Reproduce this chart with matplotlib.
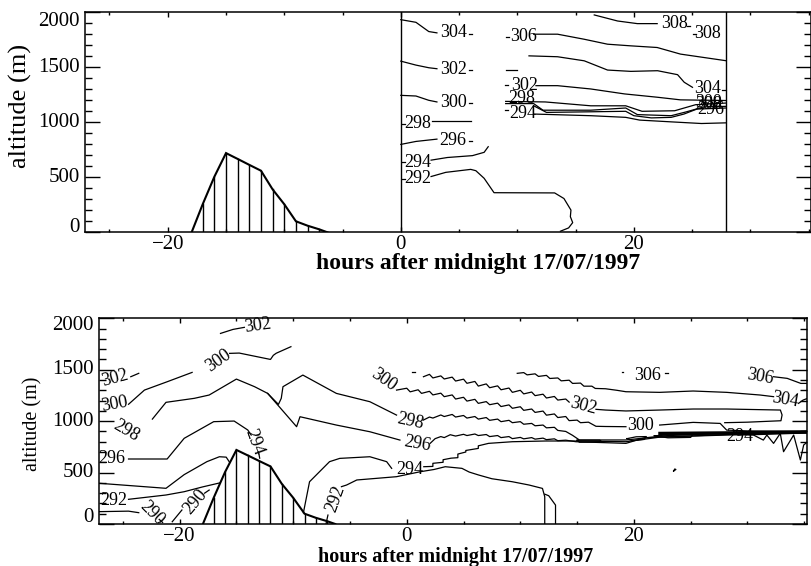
import matplotlib

matplotlib.use("Agg")
import matplotlib.pyplot as plt
from matplotlib.transforms import ScaledTranslation

plt.rcParams["font.family"] = ["Liberation Serif", "DejaVu Serif"]

# axis ranges / ticks (hours after midnight, metres)
X_LIM = (-27.1, 35.2)
Y_LIM = (0, 2000)
x_major = [-20, 0, 20]
x_major_labels = ["\u221220", "0", "20"]
x_minor = list(range(-25, 36, 5))
y_major = [0, 500, 1000, 1500, 2000]
y_major_labels = ["0", "500", "1000", "1500", "2000"]
y_minor = list(range(0, 2001, 100))
x_label = "hours after midnight 17/07/1997"
y_label = "altitude (m)"

# hatched orography profile, same in both panels
terrain_x = [-17.95, -17, -16, -15, -14, -13, -12, -11, -10, -9, -8, -7, -6.3]
terrain_y = [0, 255, 505, 720, 667, 613, 560, 390, 255, 100, 60, 27, 0]

# ---- top panel: contour pieces ----
top_edges = [0.0, 27.9]
top_304 = [([0.0, 1.3, 2.4, 3.1], [1933, 1909, 1825, 1813]),
           ([5.85, 6.1], [1805, 1805]),
           ([11.0, 13.45, 15.74, 17.74, 19.74, 22.03, 23.75, 24.32, 25.03],
            [1604, 1596, 1559, 1475, 1463, 1469, 1433, 1364, 1318]),
           ([27.6, 27.85], [1290, 1290])]
top_302 = [([0.0, 1.3, 2.4, 3.1], [1556, 1520, 1496, 1487]),
           ([5.85, 6.1], [1472, 1472]),
           ([9.0, 10.0], [1472, 1472]),
           ([8.95, 9.2], [1339, 1339]),
           ([11.6, 13.45, 16.3, 19.2, 22.0, 24.0, 27.9],
            [1333, 1333, 1303, 1258, 1228, 1204, 1198])]
top_300 = [([0.0, 1.3, 2.4, 3.1], [1245, 1239, 1200, 1185]),
           ([5.85, 6.1], [1175, 1175]),
           ([9.0, 12.4, 16.3, 19.3, 20.7, 23.5, 25.3, 27.9],
            [1190, 1185, 1150, 1150, 1100, 1105, 1160, 1175])]
top_298 = [([0.1, 0.35], [989, 989]),
           ([2.7, 6.0], [1010, 1010]),
           ([9.0, 11.4, 12.2, 16.3, 19.3, 20.3, 23.2, 24.5, 26.0, 27.9],
            [1170, 1170, 1110, 1110, 1130, 1070, 1060, 1095, 1140, 1145])]
top_296 = [([0.0, 1.3, 3.1], [799, 826, 847]),
           ([5.85, 6.1], [832, 832]),
           ([11.4, 12.5, 19.3, 20.0, 21.5, 23.2, 24.3, 25.4, 27.9],
            [1150, 1090, 1100, 1060, 1040, 1045, 1075, 1120, 1130])]
top_294 = [([0.1, 0.35], [636, 636]),
           ([2.6, 4.0, 6.15, 7.15, 7.5], [656, 680, 697, 727, 778]),
           ([8.95, 9.2], [1113, 1113]),
           ([11.4, 16.3, 19.3, 20.5, 23.2, 25.8, 27.9],
            [1075, 1060, 1045, 1020, 1004, 989, 995])]
top_292 = [([0.1, 0.35], [485, 485]),
           ([2.6, 3.86, 6.0, 6.44, 7.15, 8.0, 13.2, 14.0, 14.6, 14.55, 14.75, 14.4, 13.7],
            [507, 545, 572, 560, 491, 360, 358, 307, 202, 142, 88, 40, 10])]
top_306 = [([9.0, 9.25], [1774, 1774]),
           ([11.4, 13.45, 15.74, 17.74, 19.74, 22.0, 24.0, 27.9],
            [1801, 1801, 1755, 1710, 1695, 1680, 1620, 1560])]
top_308 = [([16.6, 18.6, 20.3, 22.0], [1976, 1921, 1897, 1897]),
           ([24.6, 24.85], [1876, 1876]),
           ([25.1, 25.35], [1800, 1800])]
top_labels = [("304", 4.5, 1813), ("302", 4.5, 1481), ("300", 4.5, 1176),
              ("298", 1.43, 989), ("296", 4.5, 832), ("294", 1.43, 636),
              ("292", 1.43, 485), ("306", 10.5, 1783), ("302", 10.6, 1330),
              ("298", 10.4, 1212), ("294", 10.45, 1080), ("308", 23.46, 1897),
              ("308", 26.3, 1806), ("304", 26.33, 1303), ("300", 26.4, 1178),
              ("298", 26.45, 1165), ("296", 26.6, 1112)]

# ---- bottom panel ----
bot_302 = [([-16.4, -15.3, -14.3], [1853, 1892, 1912]),
           ([-24.3, -23.6], [1432, 1465]),
           ([1.47, 2.0, 2.3, 3.0, 3.3, 4.0, 4.3, 5.0, 5.3, 6.0, 6.3, 7.0, 7.3, 8.0,
             8.3, 9.0, 9.3, 10.0, 10.3, 11.0, 11.3, 12.0, 12.3, 13.0, 13.3, 14.0, 14.3],
            [1432, 1455, 1420, 1440, 1410, 1428, 1390, 1408, 1368, 1386, 1341, 1362,
             1325, 1343, 1305, 1322, 1280, 1300, 1265, 1283, 1248, 1262, 1225, 1240,
             1205, 1215, 1185]),
           ([16.66, 17.5, 19.3, 22.27, 25.22, 28.17, 32.9, 33.05, 32.95, 30.0, 28.0],
            [1115, 1108, 1099, 1108, 1118, 1118, 1108, 1060, 1004, 990, 985]),
           ([0.45, 0.75], [1480, 1480])]
bot_300 = [([-24.5, -23.1, -21.1, -18.9], [1164, 1302, 1383, 1474]),
           ([-15.6, -14.75, -12.0, -11.75, -11.5, -10.2], [1659, 1662, 1600, 1640, 1660, 1724]),
           ([-0.9, 0.0, 0.3, 1.0, 1.3, 2.0, 2.3, 3.0, 3.3, 4.0, 4.3, 5.0, 5.3, 6.0, 6.3,
             7.0, 7.3, 8.0, 8.3, 9.0, 9.3, 10.0, 10.3, 11.0, 11.3, 12.0, 12.3, 13.0,
             13.3, 14.0, 14.3, 15.0, 15.3, 16.0, 16.66, 17.5, 19.3],
            [1302, 1320, 1285, 1305, 1270, 1290, 1255, 1272, 1238, 1255, 1215, 1232,
             1195, 1212, 1173, 1190, 1160, 1175, 1142, 1158, 1125, 1140, 1105, 1118,
             1085, 1098, 1058, 1070, 1035, 1045, 1005, 1010, 985, 990, 950, 948, 946]),
           ([22.27, 25.22, 27.6, 28.17, 30.0, 35.3], [962, 988, 978, 913, 905, 900])]
bot_298 = [([-22.4, -21.2, -18.7, -17.4, -15.0, -13.4, -12.25, -11.3, -11.05, -10.9,
             -9.15, -6.2, -3.25, -0.9],
            [1020, 1183, 1222, 1254, 1409, 1335, 1270, 1163, 1222, 1335,
             1448, 1270, 1189, 1059]),
           ([1.47, 2.0, 2.3, 3.0, 3.3, 4.0, 4.3, 5.0, 5.3, 6.0, 6.3, 7.0, 7.3, 8.0, 8.3,
             9.0, 9.3, 10.0, 10.3, 11.0, 11.3, 12.0, 12.3, 13.0, 13.3, 14.0, 14.6, 15.2,
             19.3, 23.0, 28.2, 35.3],
            [1011, 1040, 1030, 1060, 1045, 1065, 1040, 1055, 1030, 1045, 1020, 1035,
             1008, 1020, 995, 1008, 985, 995, 970, 978, 955, 962, 935, 940, 910, 900,
             862, 817, 817, 860, 880, 900])]
bot_296 = [([-24.5, -21.1, -19.6, -17.0, -15.2, -14.0, -13.7],
            [632, 632, 833, 995, 1001, 914, 865]),
           ([-12.25, -9.7, -9.4, -6.2, -3.25, -0.6], [1270, 946, 1043, 962, 897, 816]),
           ([2.06, 2.5, 3.0, 3.3, 3.83, 4.3, 5.0, 5.3, 6.0, 6.3, 7.0, 7.3, 8.0, 8.3, 9.0,
             9.3, 10.0, 10.3, 11.0, 11.3, 12.0, 12.3, 13.0, 13.3, 14.0, 14.9, 19.3,
             21.0, 23.5, 28.2, 35.3],
            [784, 830, 850, 840, 868, 855, 872, 860, 875, 860, 870, 850, 860, 840, 850,
             830, 842, 828, 840, 825, 835, 820, 828, 810, 815, 800, 784,
             840, 850, 870, 890])]
bot_294 = [([-13.05, -12.95], [700, 640]),
           ([-27.1, -21.2, -19.6, -17.6, -16.5, -15.9, -15.6], [396, 347, 480, 606, 654, 650, 600]),
           ([-9.1, -8.56, -6.8, -5.9, -3.25, -1.77, -1.33], [110, 411, 606, 638, 654, 606, 541]),
           ([1.5, 2.3, 2.3, 3.2, 3.2, 3.9, 4.5, 4.5, 5.2, 5.2, 6.3, 6.3, 7.2, 9.3, 12.24,
             14.6, 19.3, 22.3, 28.2, 31.0, 35.3],
            [557, 560, 590, 600, 625, 640, 645, 680, 700, 715, 735, 760, 784, 800, 807,
             807, 800, 845, 865, 870, 885])]
bot_292 = [([-24.5, -21.2, -19.6, -18.0, -16.45], [240, 282, 314, 360, 400]),
           ([-7.1, -6.94], [7, 87]),
           ([-5.75, -5.3, -4.4, -0.9, 1.18, 2.4, 3.39, 4.86, 5.5, 6.34, 7.5, 9.29, 10.77,
             11.95, 12.15, 12.15],
            [363, 379, 428, 460, 508, 530, 557, 541, 505, 476, 440, 411, 379,
             346, 265, 0]),
           ([12.15, 12.5, 13.1, 13.1], [290, 275, 184, 0])]
bot_290 = [([-27.1, -24.5, -23.6], [120, 125, 110]),
           ([-21.8, -21.5], [45, 15]),
           ([-20.65, -19.8], [22, 136]),
           ([-17.8, -17.4], [300, 330])]
bot_304 = [([9.73, 10.3, 10.6, 11.3, 11.6, 12.3, 12.6, 13.3, 13.6, 14.3, 14.6, 15.3,
             15.6, 16.3, 16.6, 17.5, 18.5, 19.3, 22.27, 25.22, 28.17, 31.12, 32.3],
            [1465, 1472, 1450, 1460, 1435, 1445, 1415, 1420, 1392, 1398, 1367, 1370,
             1340, 1340, 1318, 1315, 1300, 1286, 1280, 1293, 1280, 1254, 1238]),
           ([34.5, 34.9, 35.3], [1173, 1205, 1222])]
bot_306 = [([32.3, 33.5, 34.7, 35.3], [1432, 1416, 1367, 1367]),
           ([22.7, 23.0], [1465, 1465]),
           ([18.95, 19.05], [1474, 1474])]
bot_spikes = [([29.5, 30.53, 31.4, 31.71, 32.3, 32.89, 33.18, 34.07, 34.66, 34.95, 35.3],
               [870, 865, 816, 865, 784, 881, 703, 865, 622, 768, 800]),
              ([23.5, 23.7, 23.6, 23.5], [515, 530, 535, 515])]
bot_loops = [([15.0, 17.0, 17.2, 15.2, 15.0], [815, 815, 797, 795, 815]),
             ([19.4, 20.2, 21.1, 20.9, 19.8, 19.4], [830, 848, 850, 822, 812, 830]),
             ([21.8, 23.5, 25.2, 25.0, 23.0, 21.8], [858, 868, 872, 842, 838, 858])]
bot_band = ([22.3, 28.0, 35.3], [880, 885, 895])
bot_labels = [("302", -13.1, 1930, 8), ("302", -25.7, 1416, 15), ("300", -25.7, 1160, 10),
              ("300", -16.6, 1590, 35), ("298", -24.7, 905, -30), ("296", -26.0, 638, 0),
              ("294", -13.4, 800, -70), ("292", -25.8, 233, 0), ("290", -22.4, 104, -45),
              ("290", -18.6, 217, 50), ("292", -6.3, 250, 70), ("300", -2.06, 1400, -35),
              ("298", 0.3, 994, -12), ("296", 0.9, 780, -10), ("294", 0.3, 530, 0),
              ("302", 15.5, 1150, -15), ("306", 21.24, 1448, 0), ("300", 20.6, 962, 0),
              ("306", 31.1, 1432, -10), ("304", 33.33, 1205, -10), ("294", 29.35, 849, 0)]


def px(fig, x, y):
    w, h = fig.get_size_inches() * fig.dpi
    return x / w, 1 - y / h


def style_axes(ax, fig, y_shift_top, y_shift_bottom):
    ax.set_xlim(*X_LIM)
    ax.set_ylim(*Y_LIM)
    ax.set_xticks(x_major)
    ax.set_xticklabels(x_major_labels, fontsize=15)
    ax.set_xticks(x_minor, minor=True)
    ax.set_yticks(y_major)
    ax.set_yticklabels([])
    ax.set_yticks(y_minor, minor=True)
    ax.tick_params(which="both", direction="in", top=True, right=True, width=1.0)
    ax.tick_params(axis="x", which="major", length=3.5, pad=2)
    ax.tick_params(axis="x", which="minor", length=2.2)
    ax.tick_params(axis="y", which="major", length=10.5)
    ax.tick_params(axis="y", which="minor", length=5)
    for sp in ax.spines.values():
        sp.set_linewidth(1.1)
    trans = ax.get_yaxis_transform()
    for val, lab in zip(y_major, y_major_labels):
        dy = 0.0
        if val == Y_LIM[1]:
            dy = -y_shift_top
        elif val == Y_LIM[0]:
            dy = y_shift_bottom
        t = trans + ScaledTranslation(-5 / fig.dpi, dy / fig.dpi, fig.dpi_scale_trans)
        ax.text(0, val, lab, transform=t, ha="right", va="center", fontsize=15)


def draw_terrain(ax):
    ax.plot(terrain_x, terrain_y, color="k", lw=1.5, solid_joinstyle="miter")
    for hx, hy in zip(terrain_x[1:-1], terrain_y[1:-1]):
        ax.plot([hx, hx], [0, hy], color="k", lw=1.0)


def draw_pieces(ax, pieces):
    for xs, ys in pieces:
        ax.plot(xs, ys, color="k", lw=0.9)


fig = plt.figure(figsize=(8.11, 5.66), dpi=100)

ax1 = fig.add_axes([85 / 811, 1 - 232.3 / 566, 726 / 811, 220 / 566])
style_axes(ax1, fig, 9, 5)
draw_terrain(ax1)
for xe in top_edges:
    ax1.plot([xe, xe], Y_LIM, color="k", lw=1.0)
for group in (top_304, top_302, top_300, top_298, top_296, top_294, top_292, top_306, top_308):
    draw_pieces(ax1, group)
for s, x, y in top_labels:
    ax1.text(x, y, s, ha="center", va="center", fontsize=13)

ax2 = fig.add_axes([99 / 811, 1 - 524 / 566, 707.5 / 811, 205.7 / 566])
style_axes(ax2, fig, 7, 6)
draw_terrain(ax2)
for group in (bot_302, bot_300, bot_298, bot_296, bot_294, bot_292, bot_290,
              bot_304, bot_306, bot_spikes, bot_loops):
    draw_pieces(ax2, group)
ax2.plot(*bot_band, color="k", lw=2.5)
for s, x, y, r in bot_labels:
    ax2.text(x, y, s, ha="center", va="center", fontsize=13, rotation=r,
             rotation_mode="anchor")

fig.text(*px(fig, 478, 264), x_label, ha="center", va="center",
         fontsize=17, fontweight="bold")
fig.text(*px(fig, 456, 557), x_label, ha="center", va="center",
         fontsize=14.5, fontweight="bold")
fig.text(*px(fig, 20, 106), y_label, ha="center", va="center", rotation=90, fontsize=19)
fig.text(*px(fig, 33, 424), y_label, ha="center", va="center", rotation=90, fontsize=14.5)

fig.savefig("out.png", dpi=100)
